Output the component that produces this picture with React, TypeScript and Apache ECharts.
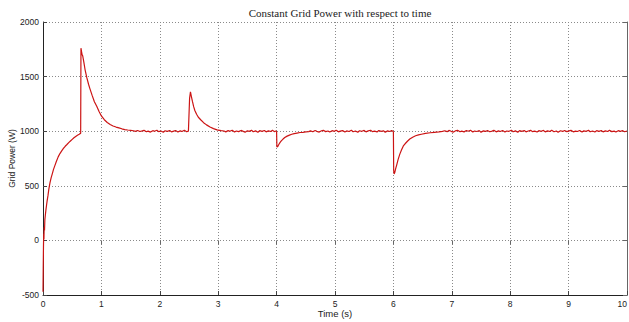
import React, { useEffect, useRef } from "react";
import * as echarts from "echarts";

const chartTitle = "Constant Grid Power with respect to time";
const xName = "Time (s)";
const yName = "Grid Power (W)";
const xTicks = [0, 1, 2, 3, 4, 5, 6, 7, 8, 9, 10];
const yTicks = [-500, 0, 500, 1000, 1500, 2000];

// [time (s), grid power (W)]
const rampUp: [number, number][] = [
  [0, -470], [0.004, -250], [0.008, -60], [0.012, 60], [0.016, 10], [0.02, 120],
  [0.026, 90], [0.032, 190], [0.04, 230], [0.05, 280], [0.06, 320], [0.07, 360],
  [0.085, 410], [0.1, 470], [0.12, 530], [0.14, 575], [0.16, 612], [0.18, 650],
  [0.2, 680], [0.23, 725], [0.26, 765], [0.29, 795], [0.32, 820], [0.35, 842],
  [0.38, 862], [0.41, 878], [0.44, 895], [0.47, 910], [0.5, 925], [0.53, 940],
  [0.56, 952], [0.59, 963], [0.62, 972], [0.645, 982],
];

const firstStep: [number, number][] = [
  [0.65, 1760], [0.66, 1730], [0.67, 1700], [0.68, 1690], [0.7, 1630], [0.72, 1565],
  [0.75, 1490], [0.78, 1430], [0.8, 1395], [0.84, 1330], [0.88, 1270], [0.92, 1228],
  [0.96, 1180], [1.0, 1140], [1.05, 1105], [1.1, 1080], [1.15, 1062], [1.2, 1048],
  [1.25, 1038], [1.3, 1030], [1.35, 1022], [1.4, 1015], [1.45, 1011], [1.5, 1008],
  [1.55, 1004], [1.58, 999], [1.62, 1006], [1.66, 997], [1.7, 1003], [1.73, 1008],
  [1.77, 995], [1.8, 1001], [1.84, 992], [1.88, 1005], [1.91, 999], [1.95, 1009],
  [1.98, 996], [2.02, 1002], [2.06, 991], [2.09, 1004], [2.13, 998], [2.17, 1007],
  [2.2, 994], [2.24, 1001], [2.27, 1006], [2.31, 993], [2.35, 1003], [2.38, 997],
  [2.42, 1008], [2.46, 995], [2.49, 1001],
];

const secondStep: [number, number][] = [
  [2.5, 1000], [2.51, 1300], [2.525, 1360], [2.54, 1320], [2.56, 1270], [2.58, 1225],
  [2.6, 1190], [2.63, 1155], [2.66, 1128], [2.7, 1105], [2.75, 1078], [2.8, 1058],
  [2.86, 1038], [2.92, 1024], [2.98, 1012], [3.05, 1006], [3.1, 1002], [3.13, 994],
  [3.17, 1005], [3.2, 999], [3.24, 1009], [3.28, 993], [3.31, 1002], [3.35, 996],
  [3.39, 1007], [3.42, 1001], [3.46, 991], [3.5, 1004], [3.53, 998], [3.57, 1008],
  [3.6, 995], [3.64, 1003], [3.68, 990], [3.71, 1005], [3.75, 999], [3.79, 1006],
  [3.82, 994], [3.86, 1003], [3.9, 997], [3.93, 1008], [3.96, 996], [3.99, 1002],
];

const firstDip: [number, number][] = [
  [4.0, 995], [4.005, 855], [4.02, 860], [4.04, 880], [4.06, 898], [4.08, 912],
  [4.11, 928], [4.14, 942], [4.18, 955], [4.22, 964], [4.26, 972], [4.3, 978],
  [4.35, 983], [4.4, 988], [4.45, 990], [4.5, 994], [4.55, 996], [4.58, 1003],
  [4.62, 995], [4.66, 1006], [4.69, 999], [4.73, 992], [4.77, 1004], [4.8, 1008],
  [4.84, 996], [4.88, 1002], [4.91, 993], [4.95, 1005], [4.99, 999], [5.02, 1009],
  [5.06, 994], [5.09, 1001], [5.13, 1006], [5.17, 992], [5.2, 1003], [5.24, 997],
  [5.28, 1008], [5.31, 995], [5.35, 1002], [5.39, 990], [5.42, 1004], [5.46, 999],
  [5.5, 1007], [5.53, 994], [5.57, 1003], [5.61, 1009], [5.64, 996], [5.68, 1001],
  [5.72, 993], [5.75, 1006], [5.79, 998], [5.83, 1004], [5.86, 991], [5.9, 1003],
  [5.94, 997], [5.97, 1007], [5.99, 1000],
];

const secondDip: [number, number][] = [
  [6.0, 995], [6.005, 640], [6.012, 608], [6.025, 625], [6.04, 660], [6.056, 690],
  [6.08, 740], [6.11, 790], [6.14, 830], [6.17, 865], [6.2, 885], [6.24, 908],
  [6.28, 928], [6.33, 945], [6.38, 958], [6.43, 966], [6.48, 972], [6.55, 980],
  [6.63, 986], [6.7, 990], [6.78, 994], [6.84, 998], [6.88, 1004], [6.92, 996],
  [6.95, 1007], [6.99, 999], [7.03, 992], [7.06, 1003], [7.1, 1008], [7.14, 995],
  [7.17, 1001], [7.21, 994], [7.25, 1006], [7.28, 999], [7.32, 1009], [7.36, 993],
  [7.39, 1002], [7.43, 997], [7.47, 1005], [7.5, 991], [7.54, 1003], [7.58, 998],
  [7.61, 1007], [7.65, 995], [7.69, 1001], [7.72, 1008], [7.76, 994], [7.8, 1003],
  [7.83, 997], [7.87, 1006], [7.91, 992], [7.94, 1002], [7.98, 999], [8.02, 1009],
  [8.05, 995], [8.09, 1003], [8.13, 990], [8.16, 1005], [8.2, 998], [8.24, 1006],
  [8.27, 994], [8.31, 1002], [8.35, 1008], [8.38, 996], [8.42, 1001], [8.46, 993],
  [8.49, 1005], [8.53, 999], [8.57, 1007], [8.6, 994], [8.64, 1003], [8.68, 997],
  [8.71, 1009], [8.75, 995], [8.79, 1002], [8.82, 991], [8.86, 1004], [8.9, 998],
  [8.93, 1006], [8.97, 996], [9.01, 1003], [9.04, 1008], [9.08, 994], [9.12, 1001],
  [9.15, 997], [9.19, 1006], [9.23, 993], [9.26, 1003], [9.3, 999], [9.34, 1008],
  [9.37, 995], [9.41, 1002], [9.45, 992], [9.48, 1005], [9.52, 998], [9.56, 1007],
  [9.59, 994], [9.63, 1003], [9.67, 997], [9.7, 1009], [9.74, 996], [9.78, 1001],
  [9.81, 993], [9.85, 1005], [9.89, 998], [9.92, 1006], [9.96, 995], [10.0, 1002],
];

const gridPower = [...rampUp, ...firstStep, ...secondStep, ...firstDip, ...secondDip];

export default function App() {
  const ref = useRef<HTMLDivElement>(null);
  useEffect(() => {
    if (!ref.current) return;
    const chart = echarts.init(ref.current, null, { renderer: "svg" });
    const sans = "Liberation Sans, Arial, sans-serif";
    const splitLine = { show: true, lineStyle: { color: "#8a8a8a", width: 1, type: [1, 2] as any } };
    const plain = (v: number) => String(v);
    chart.setOption({
      animation: false,
      backgroundColor: "#ffffff",
      title: {
        text: chartTitle,
        left: 335,
        top: 2,
        textAlign: "center",
        textStyle: { fontFamily: "Liberation Serif, Times New Roman, serif", fontSize: 11, fontWeight: "normal", color: "#222" },
      },
      grid: { left: 43, right: 2, top: 22, bottom: 27, containLabel: false, outerBoundsMode: "none" },
      xAxis: [
        {
          type: "value",
          min: xTicks[0],
          max: xTicks[xTicks.length - 1],
          interval: 1,
          name: xName,
          nameLocation: "middle",
          nameGap: 13,
          nameMoveOverlap: false,
          nameTextStyle: { fontFamily: sans, fontSize: 9.5, color: "#222" },
          axisLine: { show: true, onZero: false, lineStyle: { color: "#222", width: 1 } },
          axisTick: { show: true, inside: true, length: 4, lineStyle: { color: "#444" } },
          axisLabel: { fontFamily: sans, fontSize: 8.5, color: "#222", margin: 4, formatter: plain, alignMaxLabel: "right" },
          splitLine,
        },
        {
          type: "value",
          position: "top",
          min: xTicks[0],
          max: xTicks[xTicks.length - 1],
          interval: 1,
          axisLine: { show: false },
          axisTick: { show: true, inside: true, length: 4, lineStyle: { color: "#666" } },
          axisLabel: { show: false },
          splitLine: { show: false },
        },
      ],
      yAxis: [
        {
          type: "value",
          min: yTicks[0],
          max: yTicks[yTicks.length - 1],
          interval: 500,
          name: yName,
          nameLocation: "middle",
          nameGap: 27,
          nameMoveOverlap: false,
          nameTextStyle: { fontFamily: sans, fontSize: 8.5, color: "#222" },
          axisLine: { show: true, onZero: false, lineStyle: { color: "#222", width: 1 } },
          axisTick: { show: true, inside: true, length: 4, lineStyle: { color: "#444" } },
          axisLabel: { fontFamily: sans, fontSize: 8.5, color: "#222", margin: 4, formatter: plain },
          splitLine,
        },
        {
          type: "value",
          position: "right",
          min: yTicks[0],
          max: yTicks[yTicks.length - 1],
          interval: 500,
          axisLine: { show: true, onZero: false, lineStyle: { color: "#666", width: 1 } },
          axisTick: { show: true, inside: true, length: 4, lineStyle: { color: "#666" } },
          axisLabel: { show: false },
          splitLine: { show: false },
        },
      ],
      series: [
        {
          type: "line",
          xAxisIndex: 0,
          yAxisIndex: 0,
          data: gridPower,
          showSymbol: false,
          symbol: "none",
          lineStyle: { color: "#cc1414", width: 1.2 },
          z: 5,
        },
      ],
    });
    return () => chart.dispose();
  }, []);
  return <div ref={ref} style={{ position: "fixed", left: 0, top: 0, width: 629, height: 322 }} />;
}
